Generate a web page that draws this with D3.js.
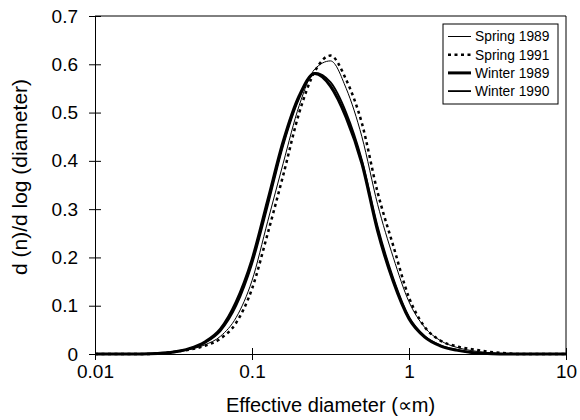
<!DOCTYPE html>
<html>
<head>
<meta charset="utf-8">
<script src="https://cdn.jsdelivr.net/npm/d3@7"></script>
<style>
  body { margin: 0; background: #fff; }
  svg { display: block; font-family: "Liberation Sans", Arial, sans-serif; }
  .axis path, .axis line { stroke: #000; stroke-width: 1; }
  .axis text { fill: #000; font-family: "Liberation Sans", Arial, sans-serif; }
</style>
</head>
<body>
<div id="chart"></div>
<script>
// diameters (um), 0.1-decade steps
const diameters = [0.01, 0.0126, 0.0158, 0.02, 0.0251, 0.0316, 0.0398, 0.0501, 0.0631, 0.0794,
  0.1, 0.126, 0.158, 0.2, 0.251, 0.316, 0.398, 0.501, 0.631, 0.794,
  1, 1.26, 1.58, 2, 2.51, 3.16, 3.98, 5.01, 6.31, 7.94, 10];

const spring1989 = [0, 0, 0, 0, 0.001, 0.004, 0.009, 0.019, 0.037, 0.076,
  0.152, 0.275, 0.395, 0.515, 0.59, 0.607, 0.55, 0.45, 0.31, 0.2,
  0.108, 0.055, 0.028, 0.014, 0.007, 0.003, 0.001, 0, 0, 0, 0];
const spring1991 = [0, 0, 0, 0, 0.001, 0.004, 0.009, 0.017, 0.032, 0.065,
  0.135, 0.25, 0.37, 0.5, 0.585, 0.618, 0.568, 0.478, 0.335, 0.224,
  0.117, 0.056, 0.028, 0.016, 0.01, 0.005, 0.002, 0, 0, 0, 0];
const winter1989 = [0, 0, 0, 0, 0.001, 0.004, 0.011, 0.025, 0.052, 0.108,
  0.195, 0.318, 0.44, 0.535, 0.581, 0.555, 0.49, 0.395, 0.255, 0.15,
  0.073, 0.035, 0.017, 0.008, 0.003, 0.001, 0, 0, 0, 0, 0];
const winter1990 = [0, 0, 0, 0, 0.001, 0.004, 0.01, 0.023, 0.048, 0.1,
  0.186, 0.307, 0.432, 0.53, 0.582, 0.563, 0.5, 0.402, 0.264, 0.157,
  0.077, 0.037, 0.018, 0.009, 0.003, 0.001, 0, 0, 0, 0, 0];

const seriesNames = ['Spring 1989', 'Spring 1991', 'Winter 1989', 'Winter 1990'];
const xTicks = [0.01, 0.1, 1, 10];
const xTickLabels = ['0.01', '0.1', '1', '10'];
const yTicks = [0, 0.1, 0.2, 0.3, 0.4, 0.5, 0.6, 0.7];

const series = [
  { name: seriesNames[0], values: spring1989, width: 1, dash: null },
  { name: seriesNames[1], values: spring1991, width: 2.5, dash: '3,3.5' },
  { name: seriesNames[2], values: winter1989, width: 3, dash: null },
  { name: seriesNames[3], values: winter1990, width: 1.8, dash: null },
];

// dimensions
const W = 580;
const H = 420;
const marginLeft = 95;
const marginRight = 14;
const marginTop = 16;
const marginBottom = 66;

const x = d3.scaleLog().domain([0.01, 10]).range([marginLeft, W - marginRight]);
const y = d3.scaleLinear().domain([0, 0.7]).range([H - marginBottom, marginTop]);

const $svg = d3.select('#chart').append('svg').attr('width', W).attr('height', H);

// frame (top + right)
$svg.append('path')
  .attr('d', `M${x(0.01)},${y(0.7)}H${x(10)}V${y(0)}`)
  .attr('fill', 'none')
  .attr('stroke', '#000');

// x axis
const $xAxis = $svg.append('g')
  .attr('class', 'axis')
  .attr('transform', `translate(0,${y(0)})`)
  .call(d3.axisBottom(x).tickValues(xTicks).tickFormat((d, i) => xTickLabels[i]).tickSizeOuter(0));
$xAxis.selectAll('.tick line').attr('y1', -6).attr('y2', 6);
$xAxis.selectAll('.tick text').attr('y', 11).attr('dy', '0.71em').style('font-size', '19px');

// y axis
const $yAxis = $svg.append('g')
  .attr('class', 'axis')
  .attr('transform', `translate(${x(0.01)},0)`)
  .call(d3.axisLeft(y).tickValues(yTicks).tickFormat(d => (d === 0 ? '0' : d3.format('.1f')(d))).tickSizeOuter(0));
$yAxis.selectAll('.tick line').attr('x1', -6).attr('x2', 6);
$yAxis.selectAll('.tick text').attr('x', -17).style('font-size', '19px');

// lines
const line = d3.line()
  .curve(d3.curveMonotoneX)
  .x((d, i) => x(diameters[i]))
  .y(d => y(d));

$svg.append('g').selectAll('path')
  .data(series)
  .join('path')
  .attr('d', d => line(d.values))
  .attr('fill', 'none')
  .attr('stroke', '#000')
  .attr('stroke-width', d => d.width)
  .attr('stroke-dasharray', d => d.dash);

// axis titles
$svg.append('text')
  .attr('x', (x(0.01) + x(10)) / 2)
  .attr('y', 412)
  .attr('text-anchor', 'middle')
  .style('font-size', '20px')
  .text('Effective diameter (∝m)');

$svg.append('text')
  .attr('transform', 'translate(27,177) rotate(-90)')
  .attr('text-anchor', 'middle')
  .style('font-size', '21px')
  .text('d (n)/d log (diameter)');

// legend
const legX = 443;
const legY = 24;
const $legend = $svg.append('g').attr('transform', `translate(${legX},${legY})`);
$legend.append('rect')
  .attr('width', 115)
  .attr('height', 80)
  .attr('fill', '#fff')
  .attr('stroke', '#000');
const $item = $legend.selectAll('.item')
  .data(series)
  .join('g')
  .attr('class', 'item')
  .attr('transform', (d, i) => `translate(0,${12.5 + i * 18.2})`);
$item.append('line')
  .attr('x1', 5).attr('x2', 28)
  .attr('stroke', '#000')
  .attr('stroke-width', d => d.width)
  .attr('stroke-dasharray', d => d.dash);
$item.append('text')
  .attr('x', 32)
  .attr('dy', '0.35em')
  .style('font-size', '13.8px')
  .text(d => d.name);
</script>
</body>
</html>
